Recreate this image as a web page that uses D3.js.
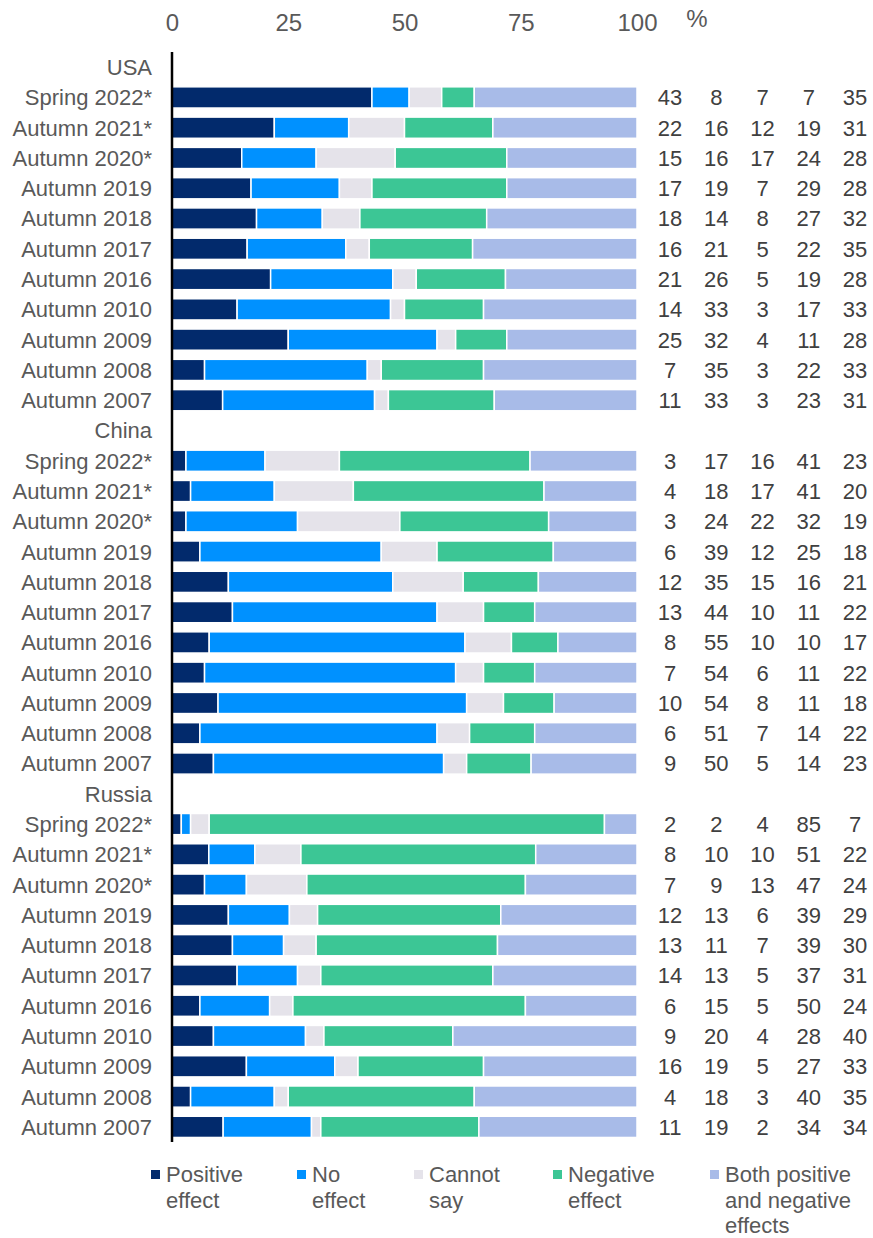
<!DOCTYPE html>
<html>
<head>
<meta charset="utf-8">
<script src="https://cdn.jsdelivr.net/npm/d3@7.9.0/dist/d3.min.js"></script>
<style>
  body { margin: 0; background: #fff; }
  svg { font-family: "Liberation Sans", Arial, sans-serif; display: block; }
</style>
</head>
<body>
<div id="chart"></div>
<script>
// categories
const groups  = ['USA', 'China', 'Russia'];
const periods = ['Spring 2022*', 'Autumn 2021*', 'Autumn 2020*', 'Autumn 2019', 'Autumn 2018',
                 'Autumn 2017', 'Autumn 2016', 'Autumn 2010', 'Autumn 2009', 'Autumn 2008', 'Autumn 2007'];
const keys    = ['positive', 'none', 'cannot', 'negative', 'both'];
const legendLabels = [['Positive', 'effect'], ['No', 'effect'], ['Cannot', 'say'],
                      ['Negative', 'effect'], ['Both positive', 'and negative', 'effects']];
const colors  = ['#022a6c', '#0091ff', '#e5e3ea', '#3cc695', '#a8bbe8'];
const xTicks  = [0, 25, 50, 75, 100];

// series values per group, one row per period (positive, none, cannot, negative, both)
const usaValues = [
  [43, 8, 7, 7, 35], [22, 16, 12, 19, 31], [15, 16, 17, 24, 28], [17, 19, 7, 29, 28],
  [18, 14, 8, 27, 32], [16, 21, 5, 22, 35], [21, 26, 5, 19, 28], [14, 33, 3, 17, 33],
  [25, 32, 4, 11, 28], [7, 35, 3, 22, 33], [11, 33, 3, 23, 31]
];
const chinaValues = [
  [3, 17, 16, 41, 23], [4, 18, 17, 41, 20], [3, 24, 22, 32, 19], [6, 39, 12, 25, 18],
  [12, 35, 15, 16, 21], [13, 44, 10, 11, 22], [8, 55, 10, 10, 17], [7, 54, 6, 11, 22],
  [10, 54, 8, 11, 18], [6, 51, 7, 14, 22], [9, 50, 5, 14, 23]
];
const russiaValues = [
  [2, 2, 4, 85, 7], [8, 10, 10, 51, 22], [7, 9, 13, 47, 24], [12, 13, 6, 39, 29],
  [13, 11, 7, 39, 30], [14, 13, 5, 37, 31], [6, 15, 5, 50, 24], [9, 20, 4, 28, 40],
  [16, 19, 5, 27, 33], [4, 18, 3, 40, 35], [11, 19, 2, 34, 34]
];
const groupValues = [usaValues, chinaValues, russiaValues];

// build rows (header slot + data slots)
const slots = [];
const rows = [];
groups.forEach((g, gi) => {
  slots.push({ id: g, label: g, header: true });
  periods.forEach((p, pi) => {
    const id = g + '|' + p;
    slots.push({ id, label: p, header: false });
    const r = { id };
    keys.forEach((k, ki) => r[k] = groupValues[gi][pi][ki]);
    rows.push(r);
  });
});

const width = 873, height = 1238;
const svg = d3.select('#chart').append('svg')
  .attr('width', width).attr('height', height);

const x = d3.scaleLinear().domain([0, 100]).range([172, 637]);
const y = d3.scaleBand().domain(slots.map(s => s.id)).range([52, 1142])
  .paddingInner(0.3).paddingOuter(0.15);
const color = d3.scaleOrdinal().domain(keys).range(colors);
const colX = d3.scalePoint().domain(keys).range([670, 855]);

// top axis
const axis = svg.append('g')
  .attr('transform', 'translate(0,31)')
  .call(d3.axisTop(x).tickValues(xTicks).tickSize(0).tickPadding(0));
axis.select('.domain').remove();
axis.selectAll('text')
  .attr('font-size', 24).attr('fill', '#595959')
  .attr('font-family', '"Liberation Sans", Arial, sans-serif');
svg.append('text')
  .attr('x', 697).attr('y', 27)
  .attr('text-anchor', 'middle').attr('font-size', 24).attr('fill', '#595959')
  .text('%');

// stacked bars (normalised so every bar reaches 100)
const series = d3.stack().keys(keys).offset(d3.stackOffsetExpand)(rows);
svg.append('g').selectAll('g')
  .data(series)
  .join('g')
  .attr('fill', d => color(d.key))
  .selectAll('rect')
  .data(d => d)
  .join('rect')
  .attr('x', d => x(d[0] * 100))
  .attr('y', d => y(d.data.id))
  .attr('width', d => Math.max(0, x(d[1] * 100) - x(d[0] * 100)))
  .attr('height', y.bandwidth())
  .attr('stroke', '#fff')
  .attr('stroke-width', 1.5);

// row labels
svg.append('g').selectAll('text')
  .data(slots)
  .join('text')
  .attr('x', 152)
  .attr('y', d => y(d.id) + y.bandwidth() / 2)
  .attr('dy', '0.36em')
  .attr('text-anchor', 'end')
  .attr('font-size', 22)
  .attr('fill', '#595959')
  .text(d => d.label);

// value columns
svg.append('g').selectAll('g')
  .data(rows)
  .join('g')
  .attr('transform', d => `translate(0,${y(d.id) + y.bandwidth() / 2})`)
  .selectAll('text')
  .data(d => keys.map(k => ({ k, v: d[k] })))
  .join('text')
  .attr('x', d => colX(d.k))
  .attr('dy', '0.36em')
  .attr('text-anchor', 'middle')
  .attr('font-size', 22)
  .attr('fill', '#404040')
  .text(d => d.v);

// vertical zero line
svg.append('line')
  .attr('x1', x(0)).attr('x2', x(0))
  .attr('y1', 52).attr('y2', 1142)
  .attr('stroke', '#000').attr('stroke-width', 2.5);

// legend
const legendX = [151, 297, 414, 553, 710];
const legend = svg.append('g').selectAll('g')
  .data(keys)
  .join('g')
  .attr('transform', (d, i) => `translate(${legendX[i]},1182)`);
legend.append('rect')
  .attr('x', 0).attr('y', -12).attr('width', 9).attr('height', 9)
  .attr('fill', d => color(d));
legend.append('text')
  .attr('x', 15)
  .attr('font-size', 22)
  .attr('fill', '#595959')
  .selectAll('tspan')
  .data((d, i) => legendLabels[i])
  .join('tspan')
  .attr('x', 15)
  .attr('y', (d, i) => i * 25.5)
  .text(d => d);
</script>
</body>
</html>
